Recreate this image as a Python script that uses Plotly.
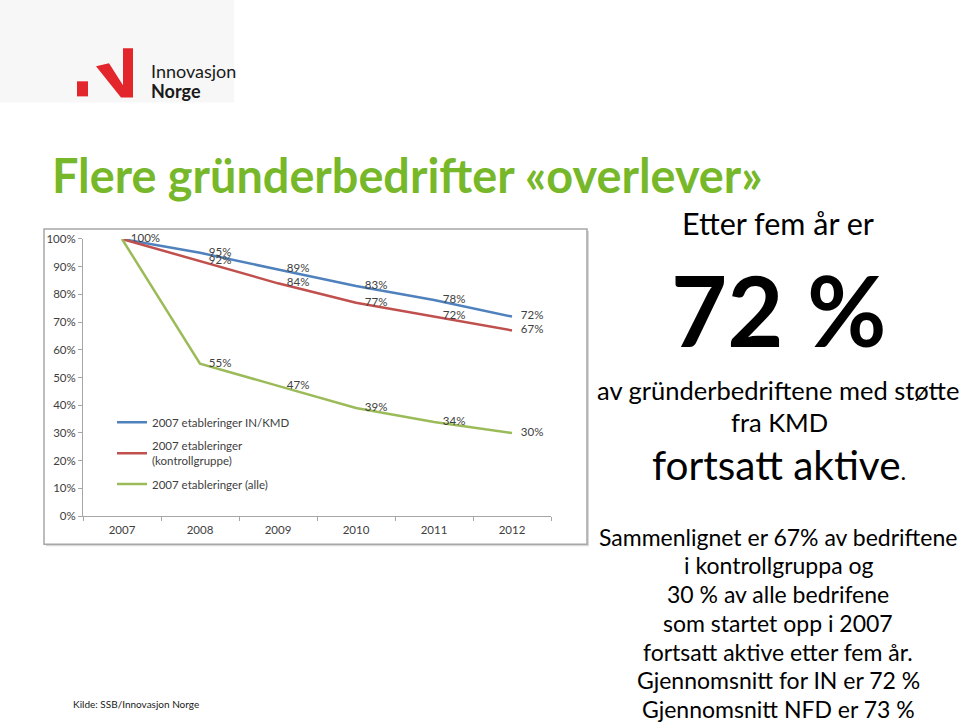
import plotly.graph_objects as go

years = ["2007", "2008", "2009", "2010", "2011", "2012"]
in_kmd = [1.00, 0.95, 0.89, 0.83, 0.78, 0.72]
kontroll = [1.00, 0.92, 0.84, 0.77, 0.72, 0.67]
alle = [1.00, 0.55, 0.47, 0.39, 0.34, 0.30]
series_names = ["2007 etableringer IN/KMD",
                "2007 etableringer<br>(kontrollgruppe)",
                "2007 etableringer (alle)"]
series_colors = ["#4f81bd", "#c0504d", "#9bbb59"]

W, H = 960, 725
def px(x): return x / W
# vertical mapping calibrated on the rendered page
def py(y): return 1 - (y - 8) / 709

FONT = "Lato"
PAD = "\u00a0\u00a0\u00a0"
fig = go.Figure()

def labels(vals, first):
    return [(PAD + "%d%%" % round(v * 100)) if (i > 0 or first) else "" for i, v in enumerate(vals)]

for k, (vals, name, col, first) in enumerate(zip([in_kmd, kontroll, alle], series_names, series_colors, [True, False, False])):
    fig.add_trace(go.Scatter(
        x=years, y=vals, name=name, mode="lines+text", legendgroup="g%d" % k,
        line=dict(color=col, width=2.5),
        text=labels(vals, first), textposition="middle right",
        textfont=dict(family=FONT, size=11.5, color="#404040"),
        cliponaxis=False, hoverinfo="skip"))

fig.update_layout(
    width=W, height=H, margin=dict(l=0, r=0, t=0, b=0),
    paper_bgcolor="white", plot_bgcolor="white",
    font=dict(family=FONT, color="#404040"),
    showlegend=True,
    legend=dict(x=px(112), y=py(407), xanchor="left", yanchor="top",
                bgcolor="rgba(0,0,0,0)", font=dict(family=FONT, size=11.5, color="#404040"),
                itemwidth=30, tracegroupgap=5),
    xaxis=dict(domain=[px(83), px(551)], type="category", range=[-0.5, 5.5], showgrid=False,
               showline=True, linecolor="#a6a6a6", linewidth=1,
               ticks="outside", ticklen=4, tickcolor="#a6a6a6", tickson="boundaries",
               ticklabelstandoff=3,
               tickfont=dict(family=FONT, size=11.5, color="#404040")),
    yaxis=dict(domain=[py(515), py(239)], range=[0, 1], showgrid=False, zeroline=False,
               showline=True, linecolor="#a6a6a6", linewidth=1,
               ticks="outside", ticklen=4, tickcolor="#a6a6a6",
               tickvals=[i / 10 for i in range(11)], tickformat=".0%",
               tickfont=dict(family=FONT, size=11.5, color="#404040")),
)

shapes = [
    dict(type="rect", xref="paper", yref="paper", x0=0, x1=px(234), y0=py(103), y1=py(0),
         fillcolor="#f7f7f7", line=dict(width=0), layer="below"),
    dict(type="rect", xref="paper", yref="paper", x0=px(46), x1=px(589), y0=py(545), y1=py(231),
         fillcolor="#d9d9d9", line=dict(width=0), layer="below"),
    dict(type="rect", xref="paper", yref="paper", x0=px(44), x1=px(587), y0=py(543), y1=py(229),
         fillcolor="white", line=dict(color="#a6a6a6", width=1.5), layer="below"),
    dict(type="rect", xref="paper", yref="paper", x0=px(77), x1=px(88), y0=py(97), y1=py(82),
         fillcolor="#e3262b", line=dict(width=0)),
    dict(type="path", xref="paper", yref="paper",
         path="M %f,%f L %f,%f L %f,%f L %f,%f L %f,%f L %f,%f L %f,%f Z" % (
             px(96), py(67), px(109), py(64), px(123), py(86), px(123), py(49),
             px(133), py(49), px(133), py(98), px(121), py(98)),
         fillcolor="#e3262b", line=dict(width=0)),
]
fig.update_layout(shapes=shapes)

def ann(text, x, y, size, color="#000000", bold=False, xanchor="center", family=FONT):
    if bold:
        text = "<b>" + text + "</b>"
    fig.add_annotation(text=text, x=px(x), y=py(y), xref="paper", yref="paper",
                       xanchor=xanchor, yanchor="middle", showarrow=False,
                       font=dict(family=family, size=size, color=color))

ann("Innovasjon", 149, 72, 18, "#1a1a1a", xanchor="left")
ann("Norge", 149, 92, 18, "#1a1a1a", bold=True, xanchor="left")
ann("Flere gründerbedrifter «overlever»", 50, 175, 46.8, "#77b82a", bold=True, xanchor="left")

ann("Etter fem år er", 778, 223, 30.5)
ann("72 %", 779, 309, 97, bold=True)
ann("av gründerbedriftene med støtte", 778, 389, 25.5)
ann("fra KMD", 779, 421, 25.5)
ann("fortsatt aktive<span style='font-size:24px'>.</span>", 779, 464, 40.5)

para = ["Sammenlignet er 67% av bedriftene",
        "i kontrollgruppa og",
        "30 % av alle bedrifene",
        "som startet opp i 2007",
        "fortsatt aktive etter fem år.",
        "Gjennomsnitt for IN er 72 %",
        "Gjennomsnitt NFD er 73 %"]
for i, line in enumerate(para):
    ann(line, 778, 535.5 + i * 28.6, 23)

ann("Kilde: SSB/Innovasjon Norge", 71, 702, 10, "#1a1a1a", xanchor="left")

post = ("document.documentElement.style.margin='0';document.documentElement.style.padding='0';"
        "document.documentElement.style.overflow='hidden';"
        "document.body.style.margin='0';document.body.style.padding='0';document.body.style.overflow='hidden';"
        "var gd=document.getElementById('{plot_id}');gd.style.position='fixed';gd.style.left='0px';gd.style.top='0px';")
fig.write_html("out.html", config={"displayModeBar": False}, post_script=post)
